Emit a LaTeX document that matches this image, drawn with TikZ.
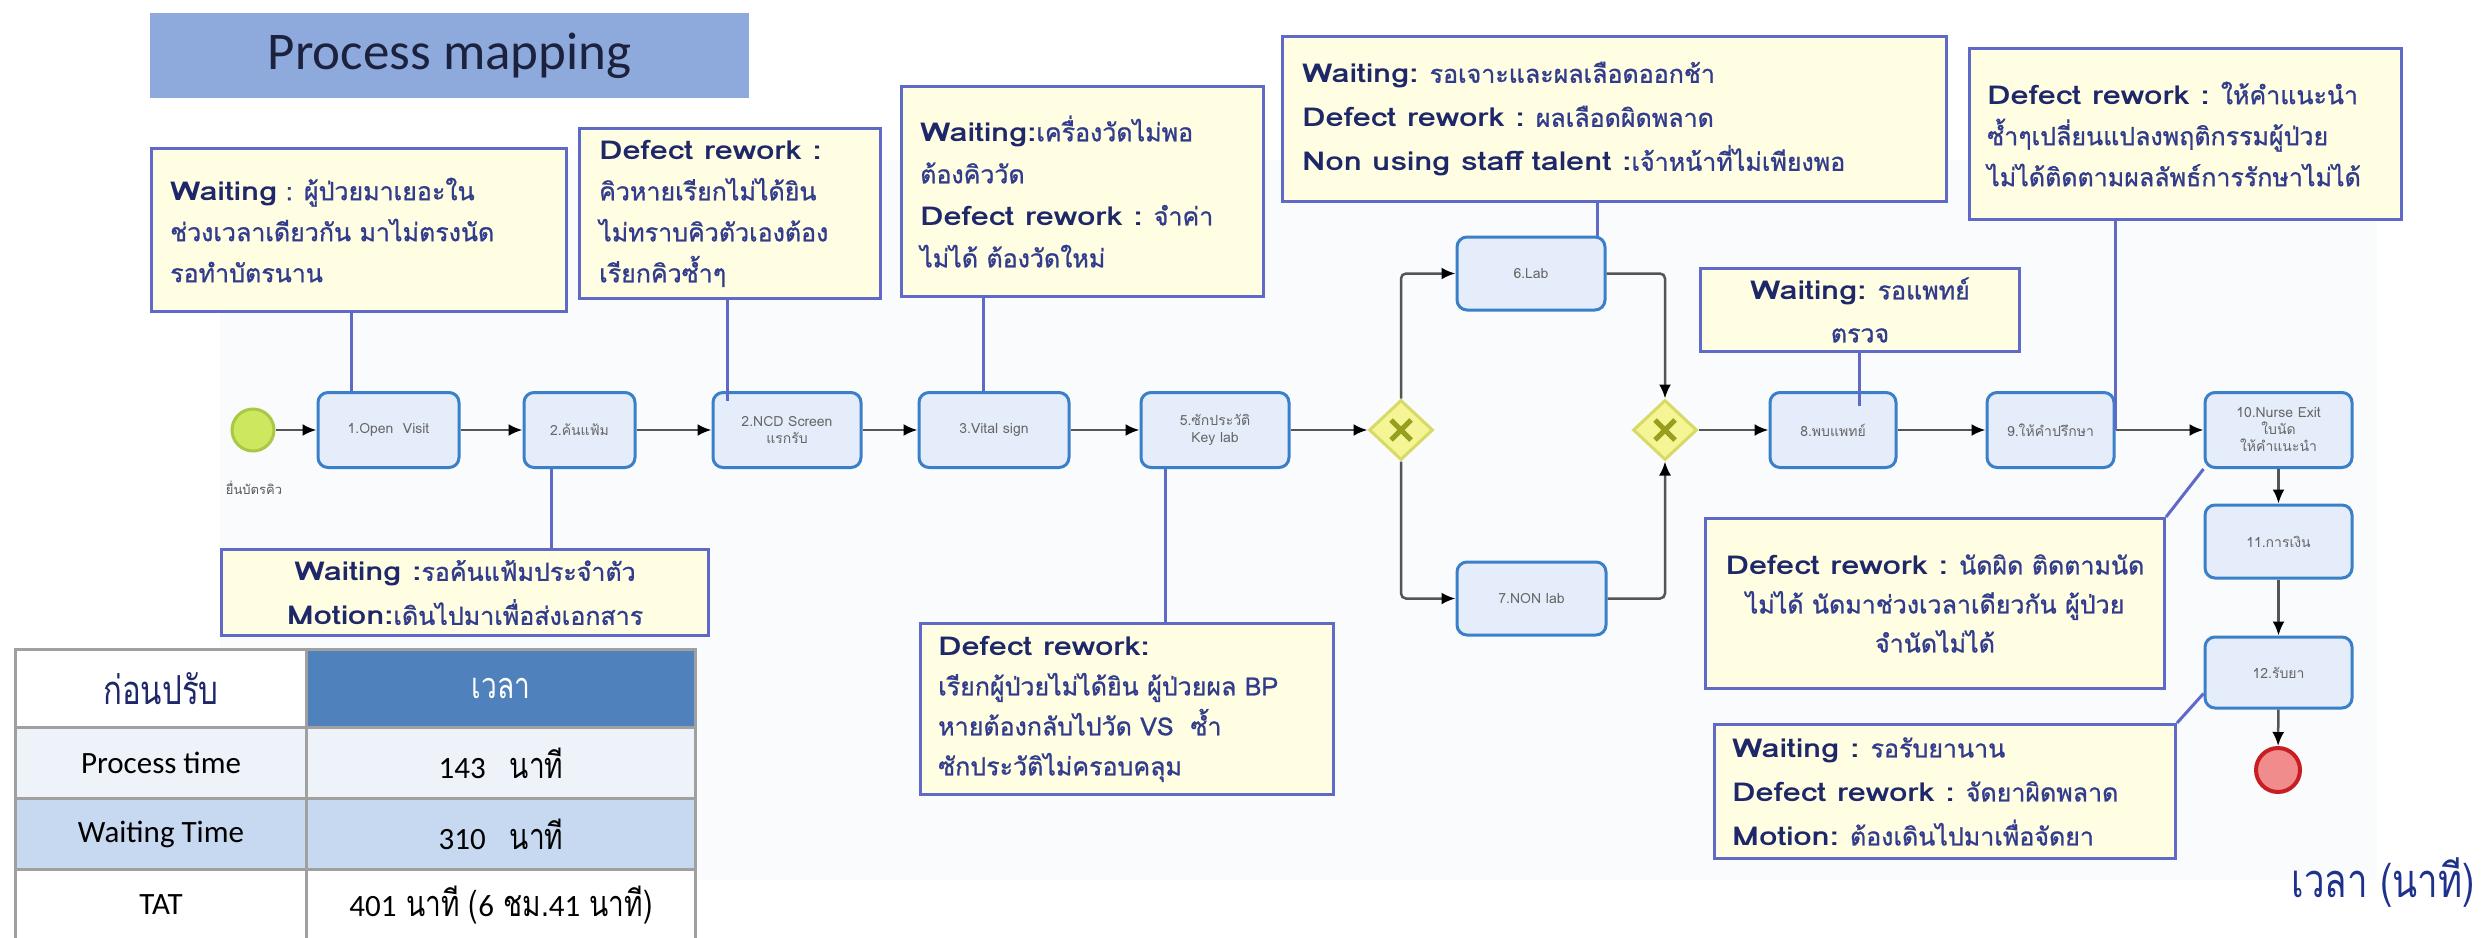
\documentclass[tikz,border=0pt]{standalone}
\usepackage{fontspec}
\setmainfont{Loma}[Script=Thai]
\newfontfamily\carl{Carlito}
\newfontfamily\kwf{Loma}[FakeStretch=1.25]
\newfontfamily\thb{Loma}[Script=Thai,FakeBold=1]
\newfontfamily\thc{Loma}[Script=Thai,FakeStretch=0.78]
\usetikzlibrary{shapes.geometric,arrows.meta}
\definecolor{navyd}{RGB}{30,40,105}
\definecolor{thtext}{RGB}{50,60,140}
\definecolor{cfill}{RGB}{255,254,226}
\definecolor{cbord}{RGB}{95,105,200}
\definecolor{titlebg}{RGB}{142,169,219}
\definecolor{titletx}{RGB}{28,34,62}
\definecolor{tfill}{RGB}{229,236,250}
\definecolor{tbord}{RGB}{58,128,200}
\definecolor{flowc}{RGB}{85,85,85}
\definecolor{gfill}{RGB}{245,245,150}
\definecolor{gbord}{RGB}{215,218,100}
\definecolor{gxc}{RGB}{150,160,30}
\definecolor{sfill}{RGB}{205,232,95}
\definecolor{sbord}{RGB}{170,200,70}
\definecolor{efill}{RGB}{240,140,140}
\definecolor{ebord}{RGB}{200,30,35}
\definecolor{thead}{RGB}{79,129,189}
\definecolor{trow1}{RGB}{238,242,249}
\definecolor{trow2}{RGB}{198,217,240}
\definecolor{tline}{RGB}{160,160,160}
\definecolor{unitc}{RGB}{30,50,140}
\definecolor{panelc}{RGB}{250,251,253}
\newcommand\kw[1]{{\kwf\bfseries\fontsize{26}{41}\selectfont\color{navyd}#1}}
\begin{document}
\begin{tikzpicture}[x=1pt,y=-1pt,
 callout/.style={draw=cbord,line width=3pt,fill=cfill,inner sep=0pt,anchor=north west},
 ctext/.style={inner sep=0pt,text=thtext,font=\thb\fontsize{25}{41}\selectfont},
 task/.style={draw=tbord,fill=tfill,line width=3pt,rounded corners=10pt,minimum height=75pt,inner sep=2pt,align=center,text=black!60,font=\fontsize{14}{17}\selectfont},
 flow/.style={draw=flowc,line width=2.5pt,rounded corners=5pt,-{Latex[length=14pt,width=12pt,color=black]}},
 note/.style={draw=cbord,line width=3pt},
 gate/.style={diamond,draw=gbord,fill=gfill,line width=3pt,minimum width=64pt,minimum height=60pt,inner sep=0pt},
 cell/.style={draw=tline,line width=3pt,inner sep=0pt,anchor=north west}
]
\useasboundingbox (0,0) rectangle (2483,937);
\fill[white] (0,0) rectangle (2483,937);
\fill[panelc] (220,160) rectangle (2377,880);

% title
\node[fill=titlebg,minimum width=599pt,minimum height=85pt,anchor=north west,inner sep=0pt,font=\carl\fontsize{53}{60}\selectfont,text=titletx] (title) at (150,13) {Process mapping};

% callouts
\node[callout,minimum width=415pt,minimum height=163pt] (cA) at (150,147) {};
\node[ctext,anchor=west,align=left] (cAt) at ([xshift=20pt]cA.west) {\kw{Waiting} : ผู้ป่วยมาเยอะใน\\ช่วงเวลาเดียวกัน มาไม่ตรงนัด\\รอทำบัตรนาน};
\node[callout,minimum width=301pt,minimum height=170pt] (cB) at (578,127) {};
\node[ctext,anchor=west,align=left] (cBt) at ([xshift=21pt]cB.west) {\kw{Defect rework :}\\คิวหายเรียกไม่ได้ยิน\\ไม่ทราบคิวตัวเองต้อง\\เรียกคิวซ้ำๆ};
\node[callout,minimum width=362pt,minimum height=210pt] (cC) at (900,85) {};
\node[ctext,anchor=west,align=left,font=\thb\fontsize{25}{42}\selectfont] (cCt) at ([xshift=20pt]cC.west) {\kw{Waiting:}เครื่องวัดไม่พอ\\ต้องคิววัด\\\kw{Defect rework :} จำค่า\\ไม่ได้ ต้องวัดใหม่};
\node[callout,minimum width=664pt,minimum height=165pt] (cLab) at (1281,35) {};
\node[ctext,anchor=west,align=left,font=\thb\fontsize{25}{44}\selectfont] (cLabt) at ([xshift=21pt]cLab.west) {\kw{Waiting:} รอเจาะและผลเลือดออกช้า\\\kw{Defect rework :} ผลเลือดผิดพลาด\\\kw{Non using staff talent :}เจ้าหน้าที่ไม่เพียงพอ};
\node[callout,minimum width=319pt,minimum height=83pt] (cW8) at (1699,267) {};
\node[ctext,align=center,font=\thb\fontsize{25}{43}\selectfont] (cW8t) at (cW8.center) {\kw{Waiting:} รอแพทย์\\ตรวจ};
\node[callout,minimum width=432pt,minimum height=171pt] (cI) at (1968,47) {};
\node[ctext,anchor=west,align=left] (cIt) at ([xshift=19pt]cI.west) {\kw{Defect rework :} ให้คำแนะนำ\\ซ้ำๆเปลี่ยนแปลงพฤติกรรมผู้ป่วย\\ไม่ได้ติดตามผลลัพธ์การรักษาไม่ได้};
\node[callout,minimum width=413pt,minimum height=171pt] (cD5) at (919,622) {};
\node[ctext,anchor=west,align=left,font=\thb\fontsize{25}{40}\selectfont] (cD5t) at ([xshift=19pt]cD5.west) {\kw{Defect rework:}\\เรียกผู้ป่วยไม่ได้ยิน ผู้ป่วยผล BP\\หายต้องกลับไปวัด VS\ \ ซ้ำ\\ซักประวัติไม่ครอบคลุม};
\node[callout,minimum width=487pt,minimum height=86pt] (cW2) at (220,548) {};
\node[ctext,align=center,font=\thb\fontsize{25}{44}\selectfont] (cW2t) at (cW2.center) {\kw{Waiting :}รอค้นแฟ้มประจำตัว\\\kw{Motion:}เดินไปมาเพื่อส่งเอกสาร};
\node[callout,minimum width=459pt,minimum height=170pt] (cD10) at (1704,517) {};
\node[ctext,align=center,font=\thb\fontsize{25}{39}\selectfont] (cD10t) at (cD10.center) {\kw{Defect rework :} นัดผิด ติดตามนัด\\ไม่ได้ นัดมาช่วงเวลาเดียวกัน ผู้ป่วย\\จำนัดไม่ได้};
\node[callout,minimum width=461pt,minimum height=134pt] (cW12) at (1713,723) {};
\node[ctext,anchor=west,align=left,font=\thb\fontsize{25}{44}\selectfont] (cW12t) at ([xshift=19pt]cW12.west) {\kw{Waiting :} รอรับยานาน\\\kw{Defect rework :} จัดยาผิดพลาด\\\kw{Motion:} ต้องเดินไปมาเพื่อจัดยา};

% process
\node[circle,draw=sbord,fill=sfill,line width=3pt,minimum size=42pt,inner sep=0pt] (start) at (253,430) {};
\node[font=\fontsize{13}{15}\selectfont,text=black!65] (slab) at (254,488) {ยื่นบัตรคิว};
\node[task,minimum width=141pt] (t1) at (388.5,430) {1.Open\ \ Visit};
\node[task,minimum width=111pt] (t2) at (579.5,430) {2.ค้นแฟ้ม};
\node[task,minimum width=148pt] (t3) at (787,430) {2.NCD Screen\\แรกรับ};
\node[task,minimum width=150pt] (t4) at (994,430) {3.Vital sign};
\node[task,minimum width=148pt] (t5) at (1215,430) {5.ซักประวัติ\\Key lab};
\node[gate] (g1) at (1401,430) {};
\node[task,minimum width=148pt,minimum height=73pt] (lab) at (1531,273.5) {6.Lab};
\node[task,minimum width=149pt,minimum height=73pt] (non) at (1531.5,598.5) {7.NON lab};
\node[gate] (g2) at (1665,430) {};
\node[task,minimum width=126pt] (t8) at (1833,430) {8.พบแพทย์};
\node[task,minimum width=127pt] (t9) at (2050.5,430) {9.ให้คำปรึกษา};
\node[task,minimum width=147pt] (t10) at (2278.5,430) {10.Nurse Exit\\ใบนัด\\ให้คำแนะนำ};
\node[task,minimum width=147pt,minimum height=73pt] (t11) at (2278.5,541.5) {11.การเงิน};
\node[task,minimum width=147pt,minimum height=71pt] (t12) at (2278.5,672.5) {12.รับยา};
\node[circle,draw=ebord,fill=efill,line width=4pt,minimum size=44pt,inner sep=0pt] (end) at (2278,770) {};
\foreach \g in {g1,g2}{
 \draw[gxc,line width=5pt] ([shift={(-10pt,-10pt)}]\g.center) -- ([shift={(10pt,10pt)}]\g.center);
 \draw[gxc,line width=5pt] ([shift={(-10pt,10pt)}]\g.center) -- ([shift={(10pt,-10pt)}]\g.center);
}

% flow
\draw[flow] (start) -- (t1);
\draw[flow] (t1) -- (t2);
\draw[flow] (t2) -- (t3);
\draw[flow] (t3) -- (t4);
\draw[flow] (t4) -- (t5);
\draw[flow] (t5) -- (g1);
\draw[flow] (g1.north) |- (lab.west);
\draw[flow] (g1.south) |- (non.west);
\draw[flow] (lab.east) -| (g2.north);
\draw[flow] (non.east) -| (g2.south);
\draw[flow] (g2) -- (t8);
\draw[flow] (t8) -- (t9);
\draw[flow] (t9) -- (t10);
\draw[flow] (t10) -- (t11);
\draw[flow] (t11) -- (t12);
\draw[flow] (t12) -- (end);

% note links
\draw[note] ([xshift=-37.5pt]t1.north) -- ([xshift=-37.5pt]t1.north |- cA.south);
\draw[note] ([xshift=16pt,yshift=-10pt]t3.north west) -- ([xshift=16pt]t3.north west |- cB.south);
\draw[note] ([xshift=-11pt]t4.north) -- ([xshift=-11pt]t4.north |- cC.south);
\draw[note] ([xshift=-50pt]t5.south) -- ([xshift=-50pt]t5.south |- cD5.north);
\draw[note] ([xshift=-9pt]lab.north east) -- ([xshift=-9pt]lab.north east |- cLab.south);
\draw[note] ([xshift=26pt,yshift=-15pt]t8.north) -- ([xshift=26pt]t8.north |- cW8.south);
\draw[note] (t9.east) -- (t9.east |- cI.south);
\draw[note] ([xshift=-28pt]t2.south) -- ([xshift=-28pt]t2.south |- cW2.north);
\draw[note] (cD10.north east) -- (t10.south west);
\draw[note] (cW12.north east) -- ([yshift=16pt]t12.south west);

% table
\node[cell,fill=white,minimum width=291pt,minimum height=78pt,font=\thc\fontsize{40}{44}\selectfont,text=navyd] (h1) at (14,648) {ก่อนปรับ};
\node[cell,fill=thead,minimum width=389pt,minimum height=78pt,font=\thc\fontsize{36}{40}\selectfont,text=white] (h2) at (305,648) {เวลา};
\node[cell,fill=trow1,minimum width=291pt,minimum height=71pt,font=\carl\fontsize{31}{36}\selectfont] (r1a) at (14,726) {Process time};
\node[cell,fill=trow1,minimum width=389pt,minimum height=71pt,font=\thc\fontsize{36}{40}\selectfont] (r1b) at (305,726) {{\carl\fontsize{31}{36}\selectfont 143}\hspace{24pt}นาที};
\node[cell,fill=trow2,minimum width=291pt,minimum height=71pt,font=\carl\fontsize{31}{36}\selectfont] (r2a) at (14,797) {Waiting Time};
\node[cell,fill=trow2,minimum width=389pt,minimum height=71pt,font=\thc\fontsize{36}{40}\selectfont] (r2b) at (305,797) {{\carl\fontsize{31}{36}\selectfont 310}\hspace{24pt}นาที};
\node[cell,fill=white,minimum width=291pt,minimum height=71pt,font=\carl\fontsize{31}{36}\selectfont] (r3a) at (14,868) {TAT};
\node[cell,fill=white,minimum width=389pt,minimum height=71pt,font=\thc\fontsize{36}{40}\selectfont] (r3b) at (305,868) {{\carl\fontsize{31}{36}\selectfont 401} นาที ({\carl\fontsize{31}{36}\selectfont 6} ชม.{\carl\fontsize{31}{36}\selectfont 41} นาที)};

\node[anchor=east,text=unitc,font=\thc\fontsize{47}{50}\selectfont] (unit) at (2478,883) {เวลา (นาที)};
\end{tikzpicture}
\end{document}
